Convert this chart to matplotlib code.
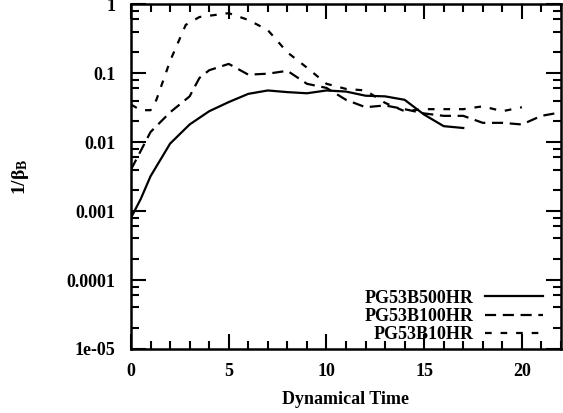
import numpy as np
import matplotlib
matplotlib.use('Agg')
import matplotlib.pyplot as plt
from matplotlib.ticker import FixedLocator, LogLocator, NullFormatter

# data
t_500 = [0, 0.5, 1, 2, 3, 4, 5, 6, 7, 8, 9, 10, 11, 12, 13, 14, 15, 16, 17]
b_500 = [0.0008, 0.0015, 0.0032, 0.0095, 0.018, 0.028, 0.038, 0.05, 0.056, 0.053, 0.051, 0.056, 0.054, 0.047, 0.046, 0.041, 0.025, 0.017, 0.016]

t_100 = [0, 1, 2, 3, 3.5, 4, 5, 6, 7, 8, 9, 10, 11, 12, 13, 14, 15, 16, 17, 18, 19, 20, 21, 22]
b_100 = [0.004, 0.014, 0.027, 0.046, 0.085, 0.11, 0.136, 0.095, 0.098, 0.108, 0.07, 0.061, 0.041, 0.032, 0.034, 0.03, 0.026, 0.024, 0.024, 0.019, 0.019, 0.018, 0.024, 0.027]

t_10 = [0, 0.5, 1, 1.3, 2, 2.8, 3.5, 5, 6, 7, 8, 9, 10, 11, 12, 13, 14, 15, 16, 17, 18, 19, 20]
b_10 = [0.035, 0.029, 0.029, 0.041, 0.15, 0.5, 0.65, 0.74, 0.59, 0.42, 0.2, 0.12, 0.07, 0.059, 0.056, 0.037, 0.028, 0.03, 0.03, 0.03, 0.033, 0.028, 0.032]

labels = ['PG53B500HR', 'PG53B100HR', 'PG53B10HR']
y_ticks = [1e-5, 1e-4, 1e-3, 1e-2, 1e-1, 1]
y_ticklabels = ['1e-05', '0.0001', '0.001', '0.01', '0.1', '1']

plt.rcParams['font.family'] = 'Liberation Serif'
plt.rcParams['font.weight'] = 'bold'
plt.rcParams['axes.labelweight'] = 'bold'
plt.rcParams['font.size'] = 13

fig = plt.figure(figsize=(5.63, 4.13), dpi=100)
ax = fig.add_axes([0.2327, 0.155, 0.7637, 0.835])

ax.plot(t_500, b_500, color='black', lw=1.6, label=labels[0])
ax.plot(t_100, b_100, color='black', lw=1.6, dashes=(5, 3), label=labels[1])
ax.plot(t_10, b_10, color='black', lw=1.6, dashes=(3, 4), label=labels[2])

ax.set_yscale('log')
ax.set_xlim(0, 22)
ax.set_ylim(1e-5, 1)
ax.set_xticks([0, 5, 10, 15, 20])
ax.xaxis.set_minor_locator(FixedLocator(np.arange(0, 23, 1)))
ax.set_yticks(y_ticks)
ax.set_yticklabels(y_ticklabels)
ax.yaxis.set_minor_locator(LogLocator(base=10, subs=(2, 4, 6, 8), numticks=20))
ax.yaxis.set_minor_formatter(NullFormatter())

ax.tick_params(which='both', direction='in', top=True, right=True, width=1.5)
ax.tick_params(which='major', length=11)
ax.tick_params(which='minor', length=6)
ax.tick_params(axis='x', which='major', pad=10)
ax.tick_params(axis='y', which='major', pad=11)
for s in ax.spines.values():
    s.set_linewidth(1.8)

ax.set_xlabel('Dynamical Time', labelpad=8)
ax.set_ylabel(r'1/$\mathregular{\beta_B}$', labelpad=26, fontsize=14)

ax.legend(loc='lower right', bbox_to_anchor=(0.974, -0.005), frameon=False,
          markerfirst=False, handlelength=3.2, labelspacing=0.08,
          borderaxespad=0.0, handletextpad=0.6)

fig.savefig('out.png', dpi=100)
